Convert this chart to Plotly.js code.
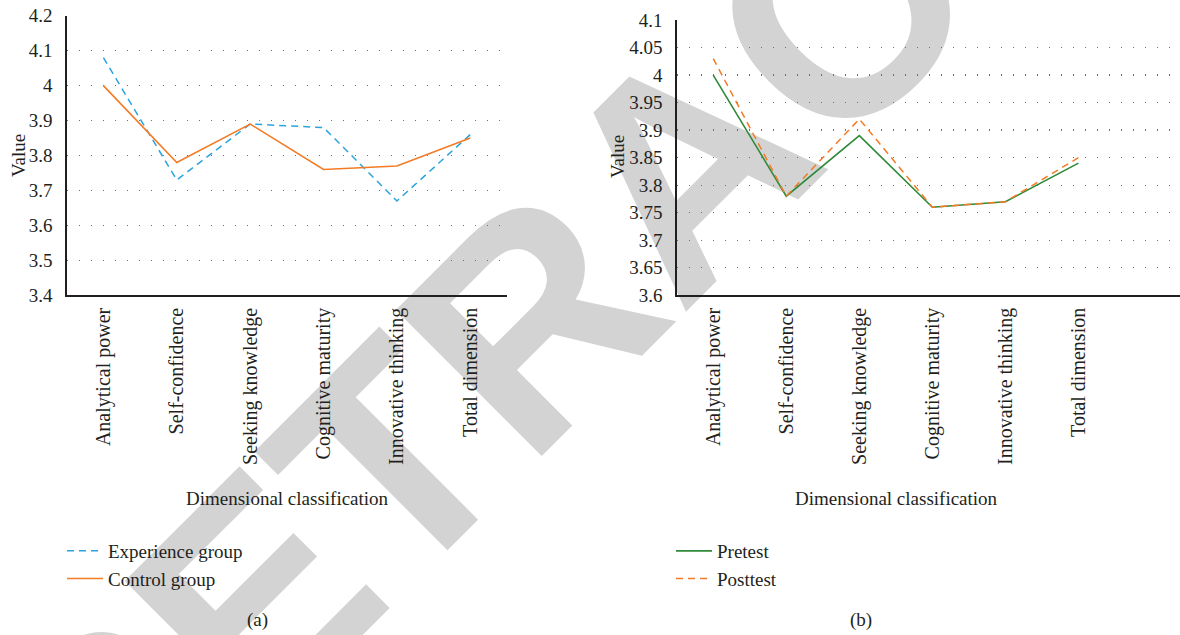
<!DOCTYPE html>
<html>
<head>
<meta charset="utf-8">
<script src="https://cdn.plot.ly/plotly-3.0.1.min.js"></script>
<style>
html,body{margin:0;padding:0;background:#fff;}
#chart{width:1180px;height:635px;}
</style>
</head>
<body>
<div id="chart"></div>
<script>
const categories = ['Analytical power','Self-confidence','Seeking knowledge','Cognitive maturity','Innovative thinking','Total dimension'];
const experienceGroup = [4.08, 3.73, 3.89, 3.88, 3.67, 3.86];
const controlGroup = [4.00, 3.78, 3.89, 3.76, 3.77, 3.85];
const pretest = [4.00, 3.78, 3.89, 3.76, 3.77, 3.84];
const posttest = [4.03, 3.78, 3.92, 3.76, 3.77, 3.85];
const xTitle = 'Dimensional classification';
const yTitle = 'Value';
const panelLabels = ['(a)', '(b)'];
const watermark = 'RETRACTED';

const W = 1180, H = 635;
const px = v => v / W;
const py = v => 1 - v / H;
const serif = 'Liberation Serif';
const ink = '#231f20';
const blue = '#2aa3df';
const orange = '#f47b25';
const green = '#2f8a3a';

const traces = [
  {x: categories, y: experienceGroup, name: 'Experience group', type: 'scatter', mode: 'lines',
   line: {color: blue, width: 1.5, dash: '7px,5px'}, xaxis: 'x', yaxis: 'y', legend: 'legend'},
  {x: categories, y: controlGroup, name: 'Control group', type: 'scatter', mode: 'lines',
   line: {color: orange, width: 1.6}, xaxis: 'x', yaxis: 'y', legend: 'legend'},
  {x: categories, y: pretest, name: 'Pretest', type: 'scatter', mode: 'lines',
   line: {color: green, width: 1.6}, xaxis: 'x2', yaxis: 'y2', legend: 'legend2'},
  {x: categories, y: posttest, name: 'Posttest', type: 'scatter', mode: 'lines',
   line: {color: orange, width: 1.5, dash: '7px,5px'}, xaxis: 'x2', yaxis: 'y2', legend: 'legend2'}
];

const xCommon = {
  type: 'category', showline: true, linecolor: ink, linewidth: 1.5, ticks: '',
  tickangle: -90, tickfont: {family: serif, size: 20, color: ink}, showgrid: false,
  zeroline: false, ticklabelstandoff: 3, automargin: false
};
const yCommon = {
  showline: true, linecolor: ink, linewidth: 1.5, ticks: '', zeroline: false,
  showgrid: true, gridcolor: '#6f6f6f', gridwidth: 1.3, griddash: '1.3px,10.7px',
  tickfont: {family: serif, size: 19, color: ink}, ticklabelstandoff: 9, automargin: false
};

const titleFont = {family: serif, size: 19, color: ink};
const note = (text, x, y, angle) => ({text: text, xref: 'paper', yref: 'paper', x: px(x), y: py(y),
  xanchor: 'center', yanchor: 'middle', showarrow: false, textangle: angle || 0, font: titleFont});

const layout = {
  width: W, height: H,
  margin: {l: 0, r: 0, t: 0, b: 0},
  paper_bgcolor: '#ffffff', plot_bgcolor: 'rgba(0,0,0,0)',
  font: {family: serif, color: ink},
  xaxis: Object.assign({}, xCommon, {domain: [px(66.7), px(507)], anchor: 'y', range: [-0.5, 5.5]}),
  yaxis: Object.assign({}, yCommon, {domain: [py(295.3), py(15.7)], anchor: 'x', range: [3.4, 4.2],
    tick0: 3.4, dtick: 0.1}),
  xaxis2: Object.assign({}, xCommon, {domain: [px(676.7), 1], anchor: 'y2', range: [-0.5, 6.39]}),
  yaxis2: Object.assign({}, yCommon, {domain: [py(295.3), py(20)], anchor: 'x2', range: [3.6, 4.1],
    tick0: 3.6, dtick: 0.05}),
  legend: {x: px(62), y: py(532), xanchor: 'left', yanchor: 'top', bgcolor: 'rgba(0,0,0,0)',
    font: {family: serif, size: 19, color: ink}, itemwidth: 36, tracegroupgap: 0},
  legend2: {x: px(671), y: py(532), xanchor: 'left', yanchor: 'top', bgcolor: 'rgba(0,0,0,0)',
    font: {family: serif, size: 19, color: ink}, itemwidth: 36, tracegroupgap: 0},
  showlegend: true,
  annotations: [
    note(xTitle, 287, 498),
    note(xTitle, 896, 498),
    note(yTitle, 18.5, 155.5, -90),
    note(yTitle, 617, 157, -90),
    note(panelLabels[0], 257, 620),
    note(panelLabels[1], 861, 620)
  ],
  shapes: [
    {type: 'rect', xref: 'paper', yref: 'paper', x0: px(662), x1: px(666), y0: py(149), y1: py(145),
     layer: 'below', line: {width: 0}, fillcolor: 'rgba(0,0,0,0)',
     label: {text: watermark, textposition: 'middle center', textangle: -45,
       font: {family: 'Liberation Sans', size: 300, color: '#d3d3d3', weight: 'bold'}}}
  ]
};

Plotly.newPlot('chart', traces, layout, {displayModeBar: false, staticPlot: true});
</script>
</body>
</html>
